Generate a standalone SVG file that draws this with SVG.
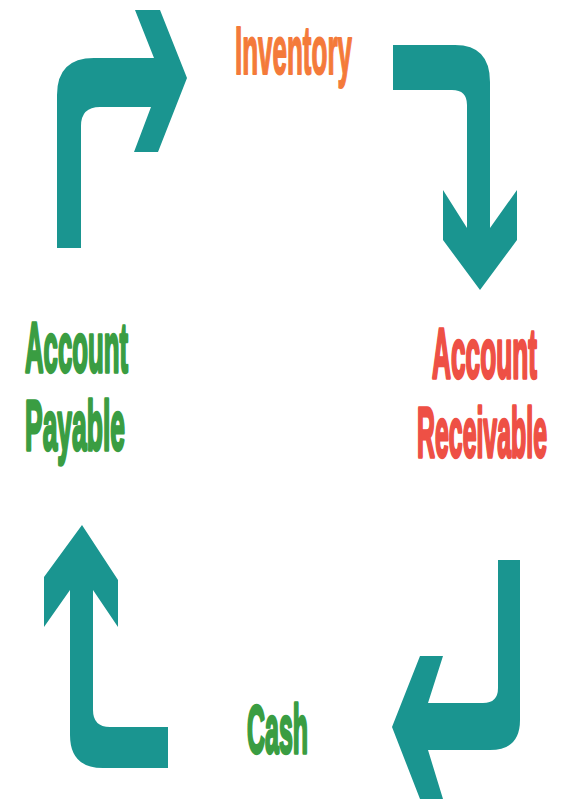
<svg xmlns="http://www.w3.org/2000/svg" width="564" height="799" viewBox="0 0 564 799">
<style>
.arrow{fill:#1a9590;stroke:none}
.lbl{font-family:"Liberation Sans",Arial,sans-serif;font-weight:bold;stroke-linejoin:round;vector-effect:non-scaling-stroke}
.orange{fill:#f47a3a;stroke:#f47a3a;stroke-width:1.5}
.green{fill:#3a9d42;stroke:#3a9d42;stroke-width:2.5}
.red{fill:#ee5045;stroke:#ee5045;stroke-width:2.5}
</style>
<rect width="564" height="799" fill="#ffffff"/>
<g id="connectors">
<path class="arrow" d="M57,248 L57,95 Q57,58 94,58 L154,58 L135,10 L160,10 L187,78 L158,152 L134,152 L151,107 L100,107 Q81,107 81,126 L81,248 Z"/>
<path class="arrow" d="M393,45 L455,45 Q490,45 490,82 L490,228 L517,190 L517,240 L480,290 L443,240 L443,190 L467,228 L467,105 Q467,90 452,90 L393,90 Z"/>
<path class="arrow" d="M498,560 L520,560 L520,720 Q520,750 490,750 L428,750 L443,799 L420,799 L392,727 L420,656 L443,656 L428,703 L483,703 Q498,703 498,688 Z"/>
<path class="arrow" d="M82,525 L118,580 L118,627 L93,590 L93,710 Q93,727 110,727 L168,727 L168,768 L103,768 Q70,768 70,735 L70,590 L44,627 L44,577 Z"/>
</g>
<g id="node-inventory">
<text class="lbl orange" transform="translate(235,74) scale(0.3767,1)" x="0" y="0" font-size="69">Inventory</text>
</g>
<g id="node-account-receivable">
<text class="lbl red" transform="translate(432,378) scale(0.3697,1)" x="0" y="0" font-size="71">Account</text>
<text class="lbl red" transform="translate(417,457) scale(0.3554,1)" x="0" y="0" font-size="70">Receivable</text>
</g>
<g id="node-cash">
<text class="lbl green" transform="translate(247,753) scale(0.3668,1)" x="0" y="0" font-size="68">Cash</text>
</g>
<g id="node-account-payable">
<text class="lbl green" transform="translate(25,372) scale(0.3679,1)" x="0" y="0" font-size="70">Account</text>
<text class="lbl green" transform="translate(25,450) scale(0.3779,1)" x="0" y="0" font-size="70">Payable</text>
</g>
</svg>
